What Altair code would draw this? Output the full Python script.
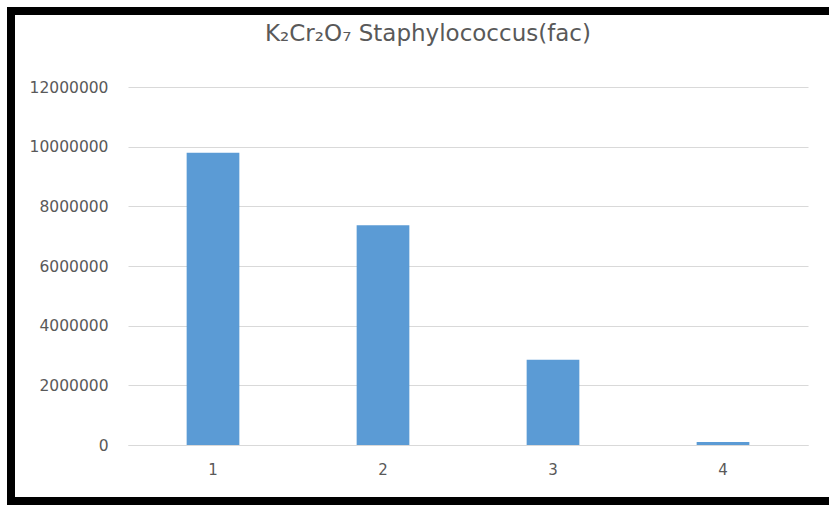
import altair as alt
import pandas as pd

categories = ["1", "2", "3", "4"]
values = [9800000, 7370000, 2860000, 100000]
y_ticks = [0, 2000000, 4000000, 6000000, 8000000, 10000000, 12000000]

df = pd.DataFrame({"cat": categories, "val": values})

FONT = "DejaVu Sans"
GRAY = "#595959"

bars = alt.Chart(df).mark_bar(color="#5B9BD5").encode(
    x=alt.X("cat:N", sort=categories, title=None,
            scale=alt.Scale(paddingInner=0.69, paddingOuter=0.345),
            axis=alt.Axis(labelAngle=0, ticks=False, domain=True, domainColor="#d9d9d9",
                          labelFont=FONT, labelFontSize=15, labelColor=GRAY, labelPadding=17,
                          grid=False)),
    y=alt.Y("val:Q", title=None,
            scale=alt.Scale(domain=[0, 12000000], nice=False),
            axis=alt.Axis(values=y_ticks, format="d", ticks=False, domain=False,
                          labelFont=FONT, labelFontSize=15.5, labelColor=GRAY, labelPadding=20,
                          gridColor="#d9d9d9", gridWidth=1)),
)

one = alt.Data(values=[{"k": 1}])
border_left = alt.Chart(one).mark_rule(color="black", strokeWidth=8).encode(
    x=alt.value(-117), y=alt.value(-80), y2=alt.value(418))
border_top = alt.Chart(one).mark_rule(color="black", strokeWidth=8).encode(
    x=alt.value(-121), x2=alt.value(701), y=alt.value(-76))
border_bottom = alt.Chart(one).mark_rule(color="black", strokeWidth=8).encode(
    x=alt.value(-121), x2=alt.value(701), y=alt.value(414))

chart = alt.layer(bars, border_left, border_top, border_bottom).properties(
    width=680, height=358,
    title=alt.TitleParams("K₂Cr₂O₇ Staphylococcus(fac)", font=FONT, fontSize=23,
                          fontWeight="normal", color=GRAY, anchor="middle", frame="group",
                          dx=-40, baseline="alphabetic", offset=-61),
    autosize=alt.AutoSizeParams(type="none"),
    padding={"left": 128, "top": 87, "right": 21, "bottom": 60},
    background="white",
).configure_view(stroke=None)

chart.save("out.html", embed_options={"renderer": "svg", "actions": False})
